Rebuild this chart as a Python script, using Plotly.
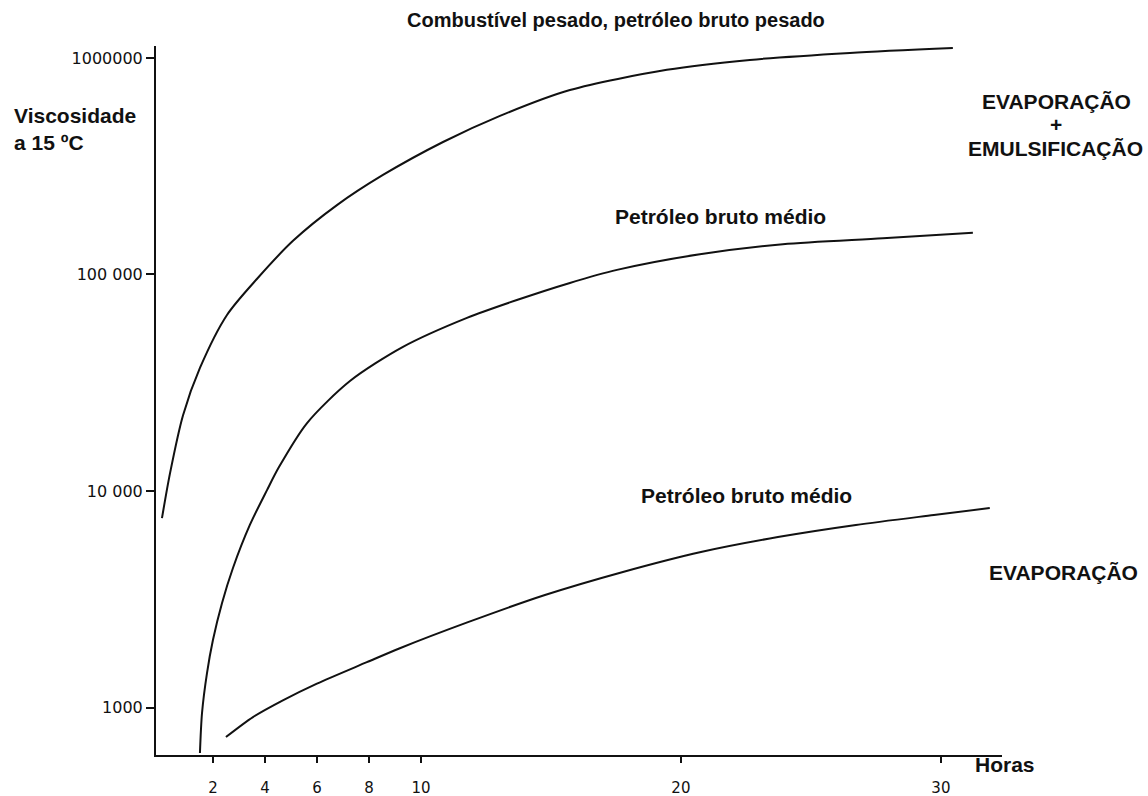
import plotly.graph_objects as go

# ---- data (hours, viscosity at 15 ºC, log scale) ----
hours_heavy = [0.04, 0.35, 0.85, 1.5, 2.54, 3.69, 5.08, 6.77, 8.54, 10.85, 13.04,
               15.73, 19.46, 22.65, 26.5, 30.46]
visc_heavy = [7500, 12100, 22400, 37000, 65000, 95300, 143000, 209000, 288000,
              409000, 540000, 711000, 881000, 979000, 1055000, 1111000]

hours_medium_emul = [1.5, 1.58, 1.77, 2.0, 2.35, 2.77, 3.42, 4.08, 4.54, 5.62, 7.27,
                     9.31, 11.77, 13.69, 15.73, 17.54, 20.73, 23.92, 27.77, 31.23]
visc_medium_emul = [617, 944, 1440, 2050, 3040, 4410, 6970, 10100, 12900, 20600,
                    32200, 46300, 63000, 76200, 91400, 105000, 124000, 138000,
                    147000, 156000]

hours_medium_evap = [2.5, 3.54, 4.69, 6.0, 7.92, 9.19, 11.81, 14.77, 17.77, 20.77,
                     23.73, 26.73, 29.73, 31.88]
visc_medium_evap = [731, 904, 1080, 1290, 1620, 1880, 2480, 3310, 4230, 5230,
                    6130, 6970, 7750, 8340]

x_tick_vals = [2, 4, 6, 8, 10, 20, 30]
x_tick_text = ["2", "4", "6", "8", "10", "20", "30"]
y_tick_vals = [1000, 10000, 100000, 1000000]
y_tick_text = ["1000", "10 000", "100 000", "1000000"]

# ---- layout geometry ----
W, H = 1148, 796
L, R, T, B = 156, 146, 46, 41
PW, PH = W - L - R, H - T - B

def px(x):
    return (x - L) / PW

def py(y):
    return (H - B - y) / PH

BOLD = "Liberation Sans, Arial, sans-serif"

fig = go.Figure()
for xs, ys, name in [(hours_heavy, visc_heavy, "Combustível pesado, petróleo bruto pesado"),
                     (hours_medium_emul, visc_medium_emul, "Petróleo bruto médio (evaporação + emulsificação)"),
                     (hours_medium_evap, visc_medium_evap, "Petróleo bruto médio (evaporação)")]:
    fig.add_trace(go.Scatter(x=xs, y=ys, mode="lines", name=name,
                             line=dict(color="#111111", width=2, shape="spline", smoothing=0.8),
                             cliponaxis=False, showlegend=False))

ann = []
def label(text, x, y, size=21, xanchor="center"):
    ann.append(dict(text=text, x=px(x), y=py(y), xref="paper", yref="paper",
                    showarrow=False, xanchor=xanchor, yanchor="middle",
                    font=dict(family=BOLD, size=size, color="#111111")))

label("<b>Combustível pesado, petróleo bruto pesado</b>", 616, 20, size=20)
label("<b>Viscosidade</b>", 12, 116, xanchor="left")
label("<b>a 15 ºC</b>", 12, 142, xanchor="left")
label("<b>EVAPORAÇÃO</b>", 1056, 101)
label("<b>+</b>", 1056, 124)
label("<b>EMULSIFICAÇÃO</b>", 1055, 148)
label("<b>Petróleo bruto médio</b>", 720, 217)
label("<b>Petróleo bruto médio</b>", 746, 495)
label("<b>EVAPORAÇÃO</b>", 1063, 572)
label("<b>Horas</b>", 973, 764, xanchor="left")

fig.update_layout(
    width=W, height=H, autosize=False,
    margin=dict(l=L, r=R, t=T, b=B, pad=0, autoexpand=False),
    paper_bgcolor="white", plot_bgcolor="white",
    annotations=ann,
    xaxis=dict(range=[-0.19, 32.35], showgrid=False, zeroline=False, automargin=False,
               showline=True, linecolor="#111111", linewidth=2,
               ticks="outside", ticklen=6, tickwidth=1.5, tickcolor="#111111",
               tickvals=x_tick_vals, ticktext=x_tick_text, ticklabelstandoff=12,
               tickfont=dict(family="DejaVu Sans, sans-serif", size=15, color="#111111")),
    yaxis=dict(type="log", range=[2.781, 6.055], showgrid=False, zeroline=False, automargin=False,
               showline=True, linecolor="#111111", linewidth=2,
               ticks="outside", ticklen=8, tickwidth=1.5, tickcolor="#111111",
               tickvals=y_tick_vals, ticktext=y_tick_text, ticklabelstandoff=0,
               tickfont=dict(family="DejaVu Sans, sans-serif", size=16, color="#111111")),
)

fig.write_html("out.html")
